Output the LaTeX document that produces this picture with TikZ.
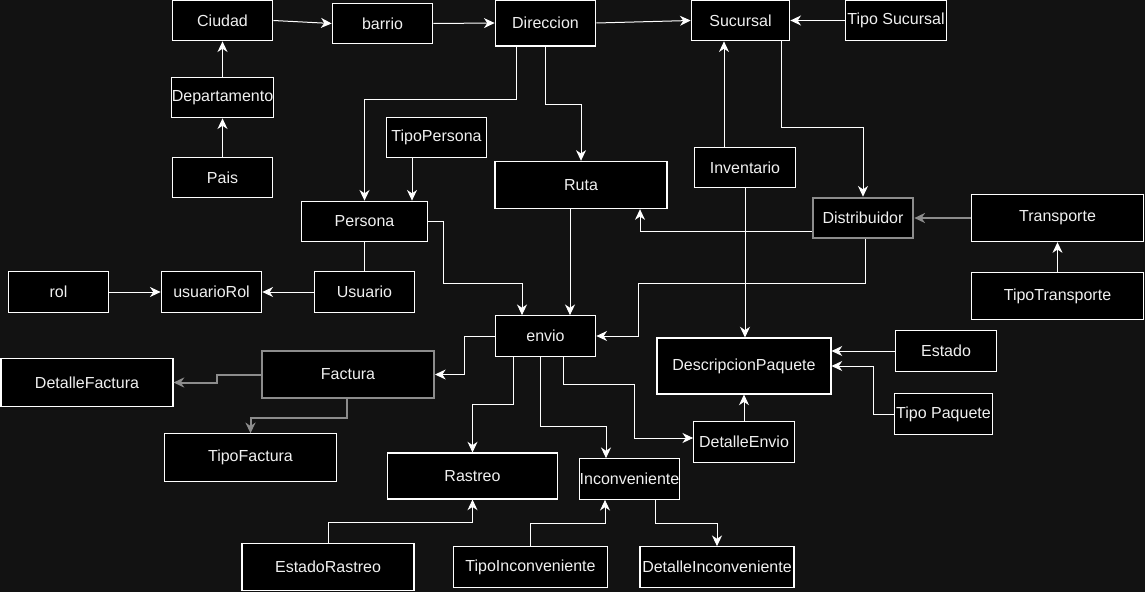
\documentclass[tikz,border=0pt]{standalone}
\usepackage{fontspec}
\setmainfont{Liberation Sans}
\usepackage{tikz}
\usetikzlibrary{arrows.meta}
\definecolor{fondo}{RGB}{18,18,18}
\definecolor{letra}{RGB}{240,240,240}
\definecolor{gris}{RGB}{140,140,140}
\tikzset{
  caja/.style={draw=white,fill=black,text=letra,line width=0.8pt,inner sep=0pt,
    minimum width=75.5pt,minimum height=30.5pt,font=\fontsize{12}{14}\selectfont},
  ancha/.style={caja,minimum width=129pt,minimum height=35.5pt},
  gcaja/.style={draw=gris,line width=1.5pt},
  flecha/.style={draw=white,line width=0.75pt,-{Stealth[length=8pt,width=7.5pt,inset=2.5pt]}},
  linea/.style={draw=white,line width=0.75pt},
  gflecha/.style={flecha,draw=gris,line width=1.5pt}
}
\begin{document}
\begin{tikzpicture}[x=0.75pt,y=-0.75pt]
\fill[fondo] (0,0) rectangle (1145,592);
\useasboundingbox (0,0) rectangle (1145,592);

\node[caja] (ciudad) at (222.5,20.5) {Ciudad};
\node[caja] (barrio) at (382.5,23.5) {barrio};
\node[caja,minimum height=34.5pt] (direccion) at (545.5,23) {Direccion};
\node[caja,minimum width=74pt] (sucursal) at (740.5,20.5) {Sucursal};
\node[caja] (tiposucursal) at (896,20.5) {Tipo Sucursal};
\node[caja] (departamento) at (222.5,97.5) {Departamento};
\node[caja] (pais) at (222.5,177.5) {Pais};
\node[caja] (tipopersona) at (436.5,137.5) {TipoPersona};
\node[caja,minimum width=95pt] (persona) at (364.5,221.5) {Persona};
\node[ancha] (ruta) at (581,185) {Ruta};
\node[caja] (inventario) at (745,167.5) {Inventario};
\node[caja,gcaja] (distribuidor) at (863,218) {Distribuidor};
\node[ancha] (transporte) at (1057.5,218) {Transporte};
\node[ancha] (tipotransporte) at (1057.5,296) {TipoTransporte};

\node[caja] (rol) at (58.5,292) {rol};
\node[caja] (usuariorol) at (211.5,292) {usuarioRol};
\node[caja] (usuario) at (364.5,292) {Usuario};
\node[caja] (envio) at (545.5,336) {envio};
\node[ancha,minimum width=130.5pt,minimum height=42pt] (descripcion) at (744,366) {DescripcionPaquete};
\node[caja] (estado) at (946,351) {Estado};
\node[caja,minimum width=74pt] (tipopaquete) at (943.5,414) {Tipo Paquete};
\node[caja] (detalleenvio) at (744,442) {DetalleEnvio};
\node[ancha,gcaja] (factura) at (348,374.5) {Factura};
\node[ancha] (detallefactura) at (87,382.5) {DetalleFactura};
\node[ancha] (tipofactura) at (250.5,457.5) {TipoFactura};
\node[ancha,minimum width=128pt,minimum height=34.5pt] (rastreo) at (472.5,476) {Rastreo};
\node[caja] (inconveniente) at (629.5,479) {Inconveniente};
\node[caja,minimum width=116pt] (tipoinconveniente) at (530.5,567) {TipoInconveniente};
\node[caja,minimum width=115.5pt] (detalleinconveniente) at (717,567) {DetalleInconveniente};
\node[ancha] (estadorastreo) at (328,567) {EstadoRastreo};

\draw[flecha] (ciudad.east) -- (barrio.west);
\draw[flecha] (barrio.east) -- (direccion.west);
\draw[flecha] (direccion.east) -- (sucursal.west);
\draw[flecha] (tiposucursal.west) -- (sucursal.east);
\draw[flecha] (departamento.north) -- (ciudad.south);
\draw[flecha] (pais.north) -- (departamento.south);
\draw[flecha] (direccion.south -| 516,0) -- (516,99) -| (persona.north);
\draw[flecha] (direccion.south) -- (545.5,104) -| (ruta.north);
\draw[flecha] (tipopersona.south -| 412,0) -- (persona.north -| 412,0);
\draw[linea] (persona.south) -- (usuario.north);
\draw[flecha] (usuario.west) -- (usuariorol.east);
\draw[flecha] (rol.east) -- (usuariorol.west);
\draw[flecha] (persona.east) -| (443,283) -| (envio.north -| 522,0);
\draw[flecha] (ruta.south -| 570,0) -- (envio.north -| 570,0);

\draw[flecha] (inventario.north -| 724,0) -- (sucursal.south -| 724,0);
\draw[flecha] (inventario.south) -- (inventario.south |- descripcion.north);
\draw[flecha] (sucursal.south -| 781,0) |- (863,127) -- (distribuidor.north);
\draw[gflecha] (transporte.west) -- (distribuidor.east);
\draw[flecha] (tipotransporte.north) -- (transporte.south);
\draw[flecha] (distribuidor.west |- 0,231) -| (ruta.south -| 640,0);
\draw[flecha] (distribuidor.south -| 865,0) |- (638,283) |- (envio.east);

\draw[flecha] (envio.west) -- (464,336) |- (factura.east);
\draw[flecha] (envio.south -| 513,0) -- (513,404) -| (rastreo.north);
\draw[flecha] (envio.south -| 540,0) -- (540,426) -| (inconveniente.north -| 606,0);
\draw[flecha] (envio.south -| 563,0) -- (563,384) -- (634,384) |- (detalleenvio.west |- 0,438);
\draw[flecha] (detalleenvio.north) -- (descripcion.south);
\draw[flecha] (estado.west) -- (descripcion.east |- estado.west);
\draw[flecha] (tipopaquete.west) -- (873,414) |- (descripcion.east);

\draw[gflecha] (factura.west) -- (217,374.5) |- (detallefactura.east);
\draw[gflecha] (factura.south -| 347,0) -- (347,418) -| (tipofactura.north);
\draw[flecha] (estadorastreo.north) -- (328,522) -| (rastreo.south);
\draw[flecha] (tipoinconveniente.north -| 530,0) -- (530,523) -| (inconveniente.south -| 605,0);
\draw[flecha] (inconveniente.south -| 655,0) -- (655,523) -| (detalleinconveniente.north);

\end{tikzpicture}
\end{document}
